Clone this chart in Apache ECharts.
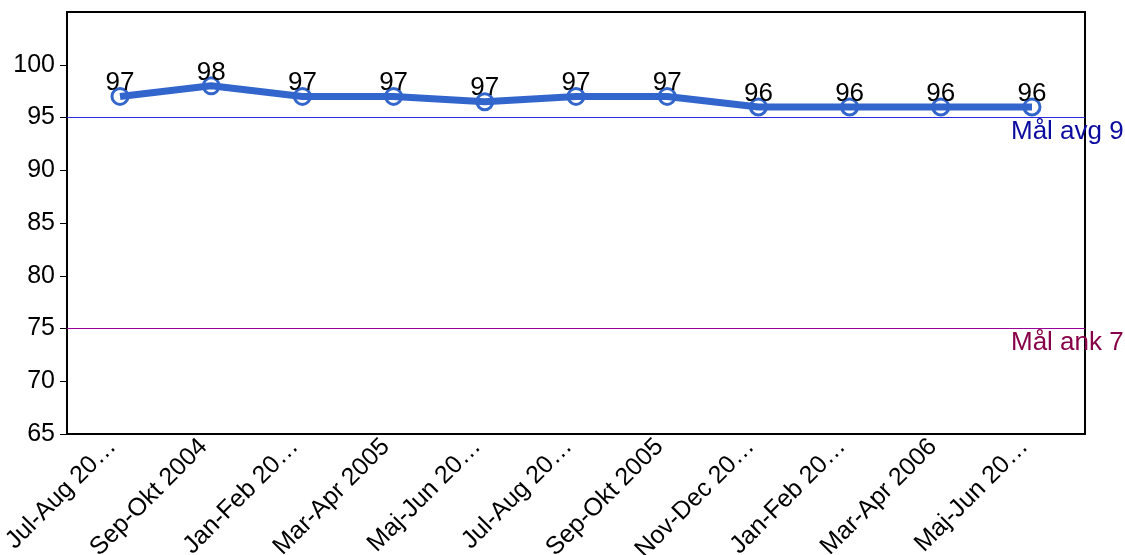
<!DOCTYPE html>
<html><head><meta charset="utf-8">
<script src="https://cdn.jsdelivr.net/npm/echarts@6/dist/echarts.min.js"></script>
<style>html,body{margin:0;padding:0;background:#fff}#c{width:1125px;height:555px}</style>
</head><body><div id="c"></div>
<script>
const categories = ['Jul-Aug 20…','Sep-Okt 2004','Jan-Feb 20…','Mar-Apr 2005','Maj-Jun 20…','Jul-Aug 20…','Sep-Okt 2005','Nov-Dec 20…','Jan-Feb 20…','Mar-Apr 2006','Maj-Jun 20…'];
const values = [97, 98, 97, 97, 96.5, 97, 97, 96, 96, 96, 96];
const goalAvg = 95;
const goalAnk = 75;
const goalAvgLabel = 'Mål avg 95';
const goalAnkLabel = 'Mål ank 75';
const yMin = 65, yMax = 105, yStep = 5;

const FONT = '"Liberation Sans", Arial, sans-serif';
const chart = echarts.init(document.getElementById('c'));
chart.setOption({
  animation: false,
  textStyle: { fontFamily: FONT },
  grid: [
    { left: 67, right: 40, top: 12, bottom: 121, containLabel: false, outerBoundsMode: 'none', show: true, borderColor: '#000', borderWidth: 2, backgroundColor: 'transparent' },
    { left: 74.4, right: 47.4, top: 12, bottom: 121, containLabel: false, outerBoundsMode: 'none' }
  ],
  xAxis: [
    { gridIndex: 0, type: 'value', min: 0, max: 1, show: false },
    { gridIndex: 1, type: 'category', data: categories, boundaryGap: true,
      axisLine: { show: false }, axisTick: { show: false },
      axisLabel: { interval: 0, rotate: 45, fontSize: 25, color: '#000', margin: 1, padding: [0, 11, 0, 0], fontFamily: FONT } }
  ],
  yAxis: [
    { gridIndex: 0, type: 'value', min: yMin, max: yMax, interval: yStep,
      axisLine: { show: true, lineStyle: { color: '#000', width: 2 } },
      axisTick: { show: true, length: 7, lineStyle: { color: '#000', width: 1 } },
      splitLine: { show: false },
      axisLabel: { fontSize: 25, color: '#000', margin: 12, fontFamily: FONT, showMaxLabel: false } },
    { gridIndex: 1, type: 'value', min: yMin, max: yMax, interval: yStep, show: false, splitLine: { show: false } }
  ],
  series: [
    { type: 'line', xAxisIndex: 0, yAxisIndex: 0, data: [], silent: true,
      markLine: { silent: true, symbol: 'none', label: { show: false },
        data: [
          { yAxis: goalAvg, lineStyle: { color: '#2a2ae0', width: 1, type: 'solid' } },
          { yAxis: goalAnk, lineStyle: { color: '#990099', width: 1, type: 'solid' } }
        ] } },
    { type: 'line', xAxisIndex: 1, yAxisIndex: 1, data: values, z: 5,
      lineStyle: { color: '#3366cc', width: 7 },
      itemStyle: { color: 'rgba(0,0,0,0)', borderColor: '#3366cc', borderWidth: 3 },
      symbol: 'circle', symbolSize: 16,
      label: { show: true, position: 'top', distance: -9, fontSize: 26, color: '#000', fontFamily: FONT,
        formatter: p => Math.round(p.value) },
      markPoint: { silent: true, symbol: 'circle', symbolSize: 0,
        data: [
          { coord: [categories.length - 1, goalAvg], value: goalAvgLabel,
            label: { color: '#0b0ba0' } },
          { coord: [categories.length - 1, goalAnk], value: goalAnkLabel,
            label: { color: '#880048' } }
        ],
        label: { show: true, formatter: p => p.value, position: [-21, 1], align: 'left', verticalAlign: 'top',
          fontSize: 26, fontFamily: FONT } } }
  ]
});
</script></body></html>
